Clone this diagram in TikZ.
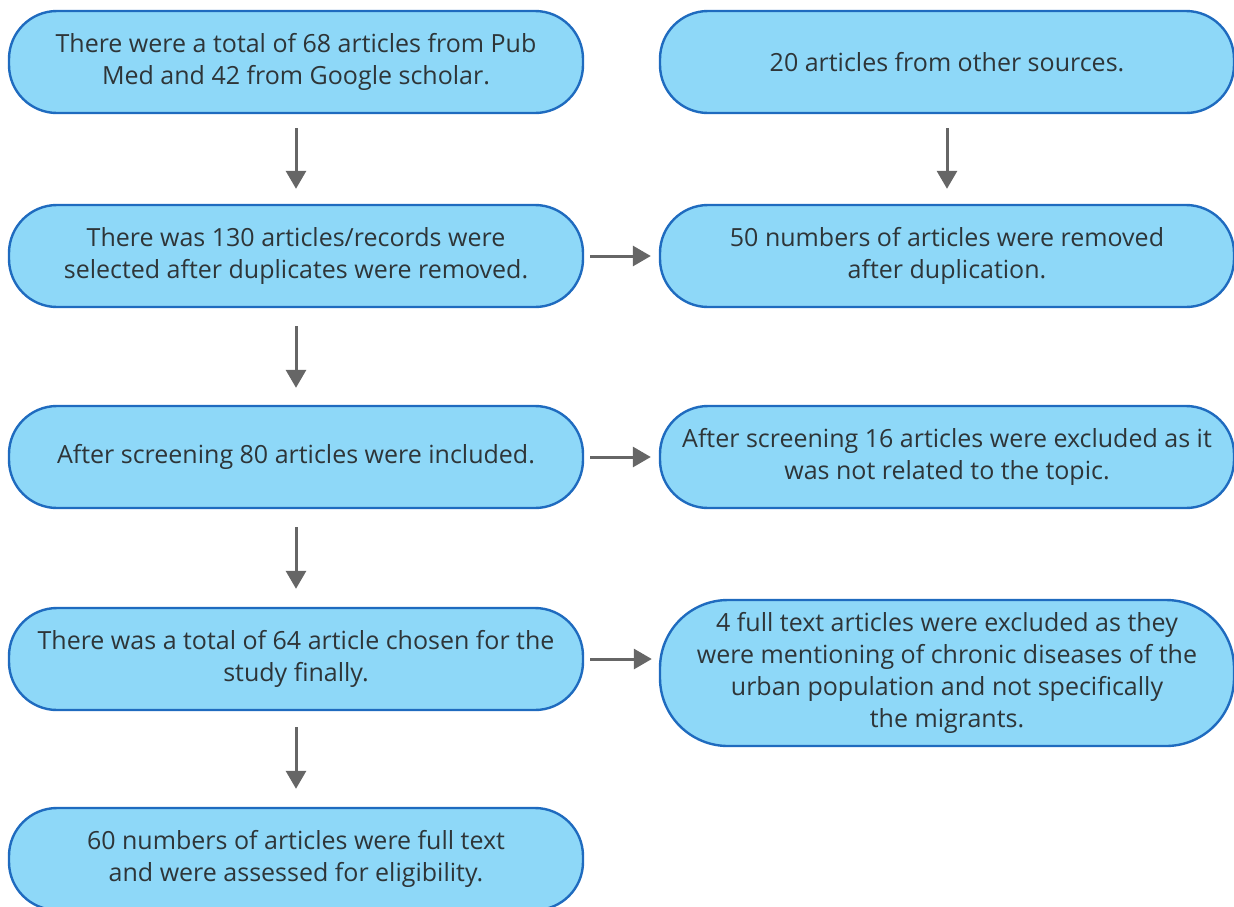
\documentclass[tikz,border=0pt]{standalone}
\usepackage{fontspec}
\setmainfont{Open Sans}
\usetikzlibrary{arrows.meta}
\definecolor{boxfill}{HTML}{8ED8F8}
\definecolor{boxline}{HTML}{1F6BBF}
\definecolor{arrowgray}{HTML}{666666}
\definecolor{txt}{HTML}{2E3538}
\begin{document}
\begin{tikzpicture}[x=1pt,y=-1pt,
  flowbox/.style={draw=boxline, line width=2.4pt, fill=boxfill, rounded corners=48pt,
    minimum width=574pt, minimum height=102pt, inner sep=0pt, align=center,
    text=txt, font=\fontsize{25}{32}\selectfont},
  tallbox/.style={flowbox, minimum height=146pt, rounded corners=68pt},
  flowarrow/.style={draw=arrowgray, line width=3pt, -{Triangle[width=20pt,length=18pt]}, arrowgray}
]
\useasboundingbox (0,0) rectangle (1234,906);
\node[flowbox] (b1) at (296,62) {There were a total of 68 articles from Pub\\Med and 42 from Google scholar.};
\node[flowbox] (r1) at (947,62) {20 articles from other sources.};
\node[flowbox] (b2) at (296,256) {There was 130 articles/records were\\selected after duplicates were removed.};
\node[flowbox] (r2) at (947,256) {50 numbers of articles were removed\\after duplication.};
\node[flowbox] (b3) at (296,457) {After screening 80 articles were included.};
\node[flowbox] (r3) at (947,457) {After screening 16 articles were excluded as it\\was not related to the topic.};
\node[flowbox] (b4) at (296,659) {There was a total of 64 article chosen for the\\study finally.};
\node[tallbox] (r4) at (947,673) {4 full text articles were excluded as they\\were mentioning of chronic diseases of the\\urban population and not specifically\\the migrants.};
\node[flowbox] (b5) at (296,859) {60 numbers of articles were full text\\and were assessed for eligibility.};

\draw[flowarrow, shorten <=14pt, shorten >=15pt] (b1) -- (b2);
\draw[flowarrow, shorten <=14pt, shorten >=15pt] (r1) -- (r2);
\draw[flowarrow, shorten <=18pt, shorten >=17pt] (b2) -- (b3);
\draw[flowarrow, shorten <=18pt, shorten >=18pt] (b3) -- (b4);
\draw[flowarrow, shorten <=16pt, shorten >=18pt] (b4) -- (b5);
\draw[flowarrow, shorten <=6pt, shorten >=8pt] (b2) -- (r2);
\draw[flowarrow, shorten <=6pt, shorten >=8pt] (b3) -- (r3);
\draw[flowarrow, shorten <=6pt, shorten >=7pt] (b4.east) -- (b4.east -| r4.west);
\end{tikzpicture}
\end{document}
